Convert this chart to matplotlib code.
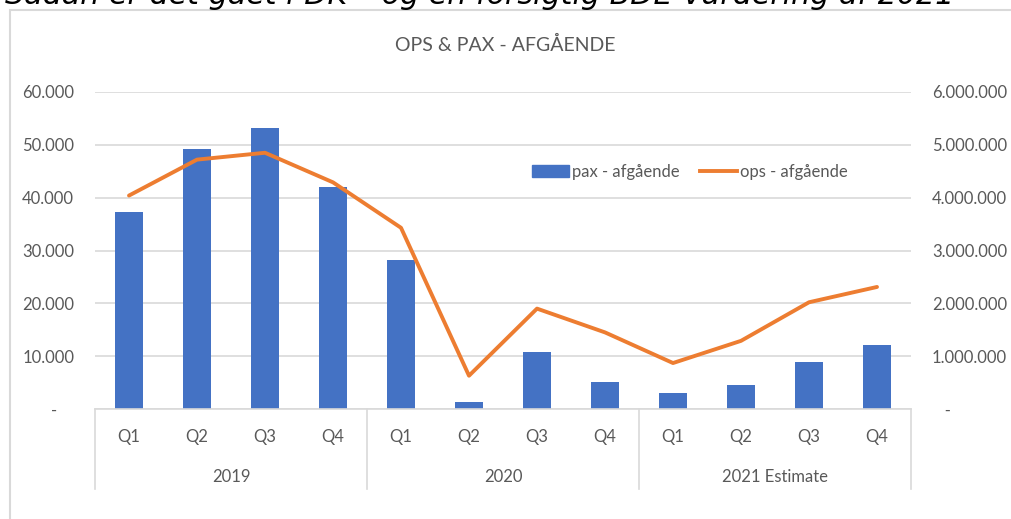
import matplotlib.pyplot as plt
import matplotlib.ticker as mticker
from matplotlib.patches import Rectangle
from matplotlib.lines import Line2D
import numpy as np

plt.rcParams['font.family'] = ['Lato', 'DejaVu Sans']

# data
kvartaler = ['Q1', 'Q2', 'Q3', 'Q4'] * 3
aar = ['2019', '2020', '2021 Estimate']
pax = [37300, 49200, 53200, 42000, 28200, 1300, 10700, 5100, 3100, 4600, 8900, 12100]
ops = [4040000, 4720000, 4850000, 4290000, 3430000, 630000, 1900000, 1450000,
       870000, 1290000, 2020000, 2310000]

blaa = '#4472C4'
orange = '#ED7D31'
graa_txt = '#595959'
graa_lin = '#D9D9D9'

W, H = 1011, 519
fig = plt.figure(figsize=(W / 100, H / 100), dpi=100)

# chart frame
fig.patches.append(Rectangle((10 / W, -0.1), 1.2, 1.1 - 10 / H, transform=fig.transFigure,
                             fill=False, edgecolor=graa_lin, linewidth=1.5))

# cut-off heading at the top
fig.text(5 / W, 1 - 4 / H, 'Sådan er det gået i DK – og en forsigtig BDE-vurdering af 2021',
         family='DejaVu Sans', style='italic', fontsize=21.7, color='black',
         ha='left', va='baseline')

left, right, top, bottom = 95, 911, 92, 409
ax = fig.add_axes([left / W, 1 - bottom / H, (right - left) / W, (bottom - top) / H])
ax2 = ax.twinx()

x = np.arange(len(pax))
ax.bar(x, pax, width=0.4, color=blaa, zorder=2)
ax2.plot(x, ops, color=orange, linewidth=2.8, solid_capstyle='round', solid_joinstyle='round')

ax.set_xlim(-0.5, len(pax) - 0.5)
ax.set_ylim(0, 60000)
ax2.set_ylim(0, 6000000)
ax.set_yticks(np.arange(0, 60001, 10000))
ax2.set_yticks(np.arange(0, 6000001, 1000000))


def dansk(v, pos):
    if v == 0:
        return '-    '
    return f'{int(v):,}'.replace(',', '.')


def dansk_h(v, pos):
    if v == 0:
        return '   -'
    return f'{int(v):,}'.replace(',', '.')


ax.yaxis.set_major_formatter(mticker.FuncFormatter(dansk))
ax2.yaxis.set_major_formatter(mticker.FuncFormatter(dansk_h))
ax.grid(axis='y', color=graa_lin, linewidth=1.2)
ax.set_axisbelow(True)

for a in (ax, ax2):
    for s in a.spines.values():
        s.set_visible(False)
    a.tick_params(axis='y', length=0, pad=15, labelsize=12, labelcolor=graa_txt)
ax.spines['bottom'].set_visible(True)
ax.spines['bottom'].set_color(graa_lin)
ax.spines['bottom'].set_linewidth(1.2)

# category axis (quarters + years)
ax.set_xticks([])
h = bottom - top
for i, q in enumerate(kvartaler):
    ax.text(i, -(437 - bottom) / h, q, transform=ax.get_xaxis_transform(),
            ha='center', va='center', fontsize=12, color=graa_txt)
for j, y in enumerate(aar):
    ax.text(j * 4 + 1.5, -(477 - bottom) / h, y, transform=ax.get_xaxis_transform(),
            ha='center', va='center', fontsize=12, color=graa_txt)
for k in range(4):
    ax.plot([k * 4 - 0.5] * 2, [0, -(489 - bottom) / h], transform=ax.get_xaxis_transform(),
            color=graa_lin, linewidth=1.2, clip_on=False)

# title
fig.text(505 / W, 1 - 45 / H, 'OPS & PAX - AFGÅENDE', ha='center', va='center',
         fontsize=14, color=graa_txt)

# legend
handles = [Rectangle((0, 0), 1, 1, color=blaa),
           Line2D([0], [0], color=orange, linewidth=2.8)]
fig.legend(handles, ['pax - afgående', 'ops - afgående'], loc='center',
           bbox_to_anchor=(690 / W, 1 - 172 / H), ncol=2, frameon=False,
           fontsize=12, labelcolor=graa_txt, handlelength=2.2, handleheight=0.7,
           handletextpad=0.2, columnspacing=1.2)

fig.savefig('out.png', dpi=100)
